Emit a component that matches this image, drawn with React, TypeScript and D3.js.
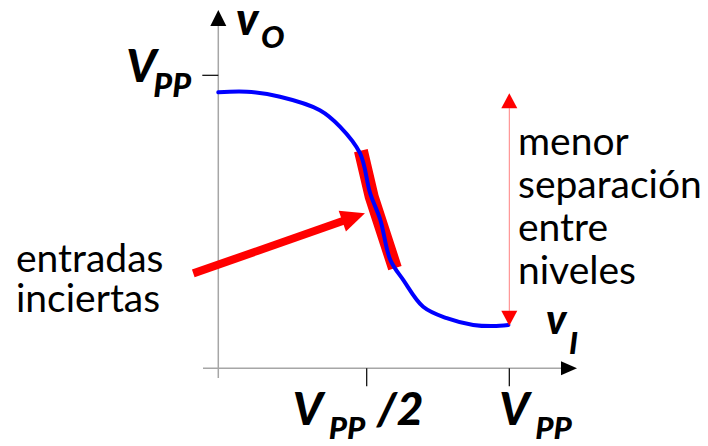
import React from "react";
import * as d3 from "d3";

const W = 708;
const H = 446;

// Transfer curve v_O(v_I), normalized to V_PP
const curveX = [0, 0.098, 0.212, 0.349, 0.418, 0.487, 0.522, 0.557, 0.591, 0.636, 0.704, 0.785, 0.876, 0.945, 0.997];
const curveY = [0.942, 0.944, 0.927, 0.881, 0.825, 0.734, 0.597, 0.506, 0.37, 0.301, 0.21, 0.171, 0.148, 0.144, 0.148];

// Uncertain-input band (thick red)
const bandX = [0.49, 0.527, 0.607];
const bandY = [0.743, 0.586, 0.342];

// Pointer arrow (from label to band)
const arrowX = [-0.086, 0.504];
const arrowY = [0.324, 0.529];

// Double arrow (level separation) at v_I = V_PP
const sepX = 1;
const sepY = [0.939, 0.145];

const xTickValues = [0.51, 1];
const xTickLabels = [["V", "PP", "/2"], ["V", "PP", ""]];
const yTickValues = [1];
const yTickLabels = [["V", "PP"]];

const sideText = ["menor", "separación", "entre", "niveles"];
const leftText = ["entradas", "inciertas"];

const labelFont = "Lato, 'Open Sans', sans-serif";

export default function App() {
  const x = d3.scaleLinear().domain([0, 1]).range([218.3, 509.3]);
  const y = d3.scaleLinear().domain([0, 1]).range([368.3, 75.3]);

  const curvePts: [number, number][] = curveX.map((v, i) => [x(v), y(curveY[i])]);
  const line = d3.line<[number, number]>().curve(d3.curveCatmullRom.alpha(0.5));
  const bandLine = d3.line<[number, number]>();
  const bandPts: [number, number][] = bandX.map((v, i) => [x(v), y(bandY[i])]);

  // pointer arrow geometry
  const ax0 = x(arrowX[0]), ay0 = y(arrowY[0]);
  const ax1 = x(arrowX[1]), ay1 = y(arrowY[1]);
  const dx = ax1 - ax0, dy = ay1 - ay0;
  const len = Math.hypot(dx, dy);
  const ux = dx / len, uy = dy / len;
  const headL = 24, headW = 11;
  const bx = ax1 - ux * headL, by = ay1 - uy * headL;
  const head = `M${ax1},${ay1}L${bx - uy * headW},${by + ux * headW}L${bx + uy * headW},${by - ux * headW}Z`;

  const sx = x(sepX);
  const sTop = y(sepY[0]);
  const sBot = y(sepY[1]);
  const ah = 15, aw = 8;

  const x0 = x(0);
  const y0 = y(0);

  return (
    <svg width={W} height={H} style={{ position: "absolute", left: 0, top: 0, background: "#fff" }}>
      {/* axes */}
      <line x1={x0} x2={x0} y1={25} y2={378} stroke="#a6a6a6" strokeWidth={1.5} />
      <path d={`M${x0},10L${x0 - 8},26L${x0 + 8},26Z`} fill="#000" />
      <line x1={203} x2={562} y1={y0} y2={y0} stroke="#a6a6a6" strokeWidth={1.5} />
      <path d={`M577,${y0}L561,${y0 - 7}L561,${y0 + 7}Z`} fill="#000" />

      {/* ticks */}
      {yTickValues.map((v, i) => (
        <line key={"yt" + i} x1={x0 - 16} x2={x0} y1={y(v)} y2={y(v)} stroke="#000" strokeWidth={1.2} />
      ))}
      {xTickValues.map((v, i) => (
        <line key={"xt" + i} x1={x(v)} x2={x(v)} y1={y0} y2={y0 + 18} stroke="#000" strokeWidth={1.2} />
      ))}

      {/* red band */}
      <path d={bandLine(bandPts) || ""} fill="none" stroke="#ff0000" strokeWidth={14} strokeLinejoin="miter" />

      {/* curve */}
      <path d={line(curvePts) || ""} fill="none" stroke="#0000ff" strokeWidth={4} strokeLinecap="round" />

      {/* pointer arrow */}
      <line x1={ax0} y1={ay0} x2={bx + ux * 2} y2={by + uy * 2} stroke="#ff0000" strokeWidth={8} />
      <path d={head} fill="#ff0000" />

      {/* separation double arrow */}
      <line x1={sx} x2={sx} y1={sTop + ah} y2={sBot - ah} stroke="#ff8080" strokeWidth={1} />
      <path d={`M${sx},${sTop}L${sx - aw},${sTop + ah}L${sx + aw},${sTop + ah}Z`} fill="#ff0000" />
      <path d={`M${sx},${sBot}L${sx - aw},${sBot - ah}L${sx + aw},${sBot - ah}Z`} fill="#ff0000" />

      {/* axis labels */}
      <g fontFamily={labelFont} fontWeight={900} fontStyle="italic" fill="#000">
        <text x={236} y={35} fontSize={45}>v</text>
        <text x={261} y={48} fontSize={31}>O</text>
        <text x={546} y={334} fontSize={41}>v</text>
        <text x={569} y={354} fontSize={31}>I</text>
        {yTickLabels.map((lab, i) => (
          <g key={"yl" + i}>
            <text x={x0 - 92} y={y(yTickValues[i]) + 7} fontSize={46}>{lab[0]}</text>
            <text x={x0 - 65} y={y(yTickValues[i]) + 22} fontSize={32}>{lab[1]}</text>
          </g>
        ))}
        {xTickLabels.map((lab, i) => {
          const cx = x(xTickValues[i]);
          const left = i === 0 ? cx - 74 : cx - 10;
          return (
            <g key={"xl" + i}>
              <text x={left} y={y0 + 57} fontSize={46}>{lab[0]}</text>
              <text x={left + 36} y={y0 + 71} fontSize={31}>{lab[1]}</text>
              {lab[2] && <text x={left + 84} y={y0 + 57} fontSize={46}>{lab[2]}</text>}
            </g>
          );
        })}
      </g>

      {/* annotations */}
      <g fontFamily={labelFont} fill="#000" fontSize={39}>
        {sideText.map((t, i) => (
          <text key={"s" + i} x={518} y={155 + i * 43}>{t}</text>
        ))}
        {leftText.map((t, i) => (
          <text key={"l" + i} x={16} y={272 + i * 40}>{t}</text>
        ))}
      </g>
    </svg>
  );
}
